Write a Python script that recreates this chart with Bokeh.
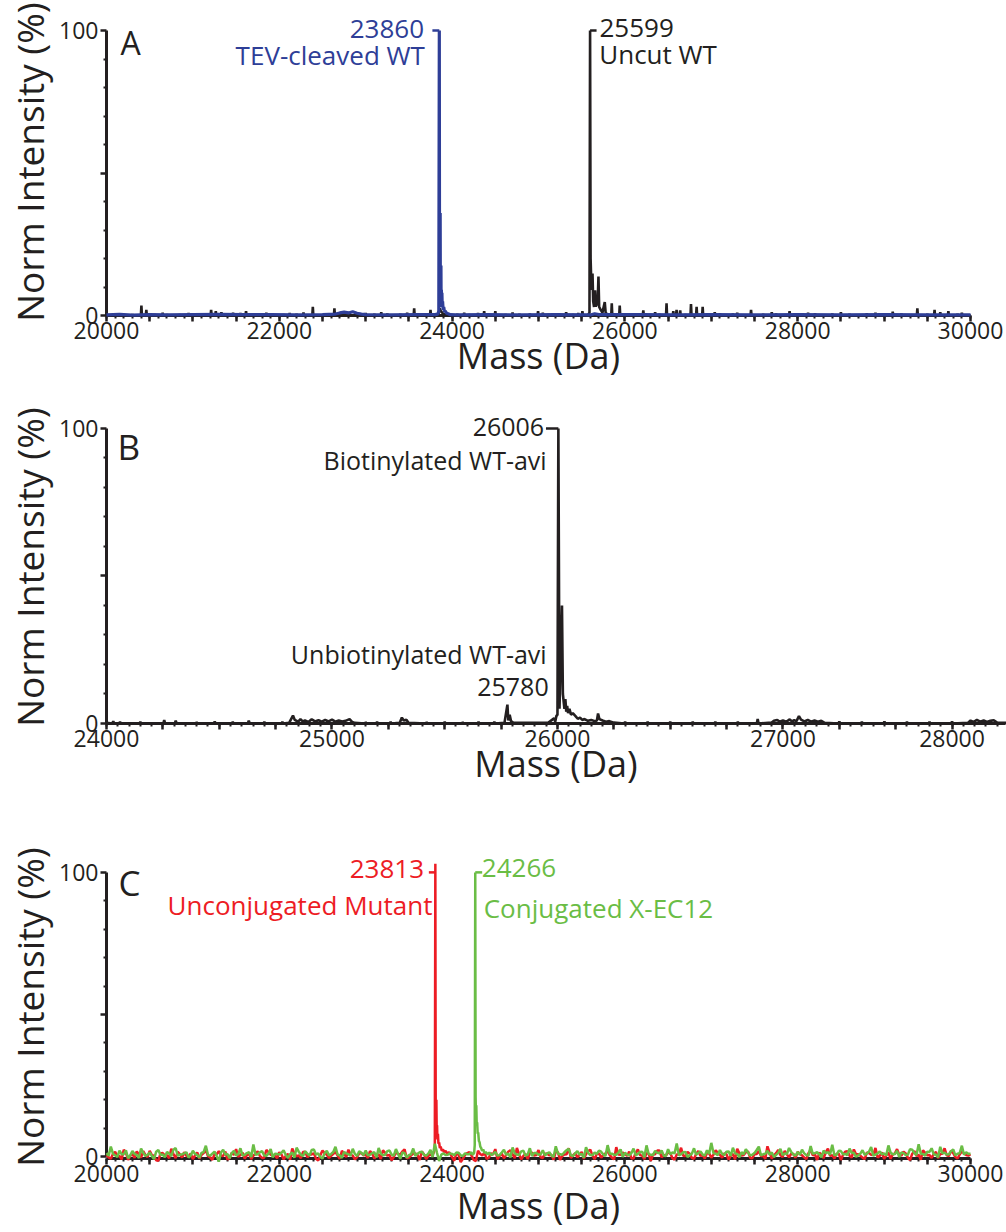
from bokeh.plotting import figure
from bokeh.models import Range1d, FixedTicker, Label, Title
from bokeh.embed import file_html
from bokeh.resources import INLINE

FONT = "Open Sans"
INK = "#231f20"
BLUE = "#2e3e97"
RED = "#ed1c24"
GREEN = "#6abd45"

# ---------------- data (mass in Da, normalised intensity in %) ----------------
# Panel A, uncut WT (black): isolated noise spikes (mass, height) and the dense peak cluster
A_UNCUT_SPIKES = [(20080, 0.6), (20180, 0.4), (20300, 0.5), (20404, 3.5), (20440, 0.4), (20461, 2.0),
                  (20560, 0.5), (20650, 1.0), (20700, 0.4), (20850, 0.5), (20950, 0.9), (21000, 0.3),
                  (21100, 0.6), (21211, 2.0), (21265, 1.5), (21330, 1.2), (21400, 0.5), (21465, 1.0),
                  (21550, 0.9), (21615, 1.5), (21760, 0.6), (21850, 1.0), (21900, 0.7), (22050, 0.5),
                  (22120, 0.9), (22200, 0.6), (22280, 1.1), (22388, 3.0), (22520, 0.6), (22638, 2.5),
                  (22750, 0.8), (22800, 0.5), (22900, 0.8), (23000, 0.9), (23100, 0.6), (23180, 1.2),
                  (23250, 0.7), (23400, 0.6), (23480, 1.0), (23561, 2.5), (23660, 0.6), (23750, 2.0),
                  (24060, 0.6), (24140, 1.0), (24200, 0.5), (24300, 0.9), (24371, 1.5), (24500, 1.5),
                  (24620, 0.5), (24700, 1.1), (24780, 0.6), (24900, 0.7), (24995, 1.5), (25050, 1.0),
                  (25120, 0.5), (25250, 0.6), (25320, 1.2), (25400, 0.5), (25460, 0.9), (25508, 1.5),
                  (25848, 4.3), (25940, 3.5), (26080, 0.8), (26213, 1.8), (26300, 0.5), (26350, 1.2),
                  (26400, 0.6), (26482, 4.3), (26560, 1.5), (26598, 2.0), (26640, 1.8), (26700, 0.5),
                  (26765, 4.0), (26830, 3.0), (26900, 3.0), (27000, 0.6), (27040, 1.2), (27100, 0.8),
                  (27250, 0.7), (27300, 1.0), (27460, 2.0), (27600, 0.6), (27700, 1.2), (27750, 0.7),
                  (27906, 1.5), (28050, 0.6), (28120, 1.0), (28200, 0.8), (28400, 0.7), (28500, 1.2),
                  (28600, 0.6), (28800, 0.8), (28900, 1.0), (29000, 0.6), (29100, 1.3), (29200, 0.7),
                  (29385, 2.5), (29500, 0.6), (29584, 2.0), (29650, 1.2), (29744, 1.5), (29850, 0.6),
                  (29900, 1.0)]
A_UNCUT_DENSE = [(20000, 0), (23840, 0), (23855, 2.5), (23870, 1.5), (23900, 0.5), (23950, 0),
                 (25570, 0), (25590, 1.0), (25597, 100), (25603, 20), (25613, 9), (25625, 14.7), (25633, 5),
                 (25643, 3), (25655, 8.8), (25663, 3), (25675, 6), (25684, 3.5), (25694, 13.7), (25702, 3),
                 (25720, 2), (25740, 1), (25767, 4.7), (25777, 1), (25800, 0.3), (30000, 0)]

# Panel A, TEV-cleaved WT (blue)
A_TEV = [(20000, 0.2), (20150, 0.4), (20300, 0.1), (20500, 0.3), (20700, 0.2), (21000, 0.3), (21300, 0.4),
         (21600, 0.3), (21900, 0.3), (22200, 0.2), (22500, 0.3), (22650, 0.5), (22700, 0.9), (22750, 1.2),
         (22800, 0.9), (22850, 1.3), (22900, 0.8), (22950, 0.5), (23000, 0.3), (23300, 0.2), (23600, 0.3),
         (23800, 0.3), (23835, 0.5), (23846, 1.5), (23852, 100), (23855, 3), (23857, 36), (23860, 6),
         (23862, 36), (23864, 8), (23866, 17.5), (23868, 6), (23871, 17.5), (23873, 4), (23876, 9),
         (23879, 3), (23882, 8), (23886, 3), (23890, 5), (23896, 2), (23903, 3), (23912, 1.2),
         (23922, 1.6), (23935, 0.8), (23955, 0.6), (23980, 0.3), (24050, 0.2), (24400, 0.3), (24800, 0.2),
         (25200, 0.3), (25600, 0.2), (25650, 0.6), (25700, 0.3), (26200, 0.3), (26600, 0.2), (27000, 0.3),
         (27500, 0.2), (28000, 0.3), (28500, 0.2), (29000, 0.3), (29500, 0.2), (30000, 0.2)]

# Panel B, WT-avi (black)
B_AVI_SPIKES = [(24030, 0.8), (24060, 0.6), (24150, 0.5), (24256, 1.2), (24307, 1.0), (24400, 0.4),
                (24480, 0.7), (24560, 0.5), (24631, 1.0), (24700, 0.5), (24780, 0.6), (25150, 0.4),
                (25200, 0.5), (25260, 0.6), (25420, 0.4), (25500, 0.5), (25580, 0.4), (25650, 0.5),
                (25720, 0.6), (26300, 0.6), (26400, 0.5), (26500, 0.6), (26600, 0.5), (26700, 0.6),
                (26800, 0.5), (26888, 1.5), (27250, 0.7), (27350, 0.6), (27450, 0.7), (27550, 0.5),
                (27650, 0.6), (27750, 0.7)]
B_AVI_DENSE = [(24000, 0.2),
               (24810, 0.2), (24827, 2.7), (24835, 1.2), (24850, 0.6), (24860, 1.5), (24870, 0.7), (24880, 1.0),
               (24895, 0.5), (24910, 1.4), (24925, 0.7), (24940, 1.1), (24955, 0.6), (24970, 1.2), (24985, 0.7),
               (25000, 1.3), (25015, 0.6), (25030, 1.0), (25045, 0.7), (25060, 0.9), (25078, 1.5), (25090, 0.5),
               (25100, 0.2),
               (25300, 0.2), (25310, 2.0), (25318, 1.0), (25330, 1.3), (25340, 0.2),
               (25765, 0.2), (25778, 6.4), (25782, 1.0), (25788, 3.0), (25794, 0.8), (25805, 0.2),
               (25960, 0.3), (25985, 1.8), (25990, 0.6), (25995, 2.5), (26000, 3.0), (26004, 100), (26009, 5),
               (26020, 40), (26024, 10), (26027, 7.8), (26031, 5), (26035, 8.3), (26039, 4), (26043, 6),
               (26047, 3.5), (26053, 5), (26060, 3), (26068, 3.5), (26080, 2.5), (26090, 1.6), (26100, 2.0),
               (26110, 1.2), (26120, 1.5), (26135, 0.9), (26150, 1.2), (26165, 0.8), (26175, 1.0), (26180, 3.4),
               (26186, 1.5), (26200, 1.0), (26215, 0.6), (26230, 0.8), (26250, 0.3),
               (26950, 0.3), (26960, 0.9), (26975, 1.2), (26985, 0.6), (27000, 1.0), (27015, 0.6), (27030, 1.4),
               (27040, 0.7), (27050, 1.1), (27060, 0.8), (27071, 2.5), (27080, 1.3), (27095, 0.7), (27110, 1.2),
               (27125, 0.6), (27140, 1.0), (27155, 0.6), (27170, 0.9), (27185, 0.2),
               (27820, 0.2), (27832, 1.0), (27845, 0.5), (27860, 1.2), (27875, 0.6), (27890, 1.0), (27905, 0.5),
               (27920, 0.9), (27935, 1.1), (27950, 0.3), (27990, 0.2)]

# Panel C, baseline readings every 50 Da from 20000 to 30000 and in between (None = inside a peak window)
C_GRID = list(range(20000, 30001, 50))
C_GRID_MID = list(range(20025, 30000, 50))
C_CONJ_BASE = [
    1.2, 3.5, 0.4, 2.1, 0.8, -0.6, 1.9, 0.5, 2.8, 0.2, 1.4, -0.9, 2.3, 0.7, 1.6, 0.1, 3.0, 0.6, 1.1, -0.4,
    2.0, 0.5, 1.3, 3.8, 0.3, 1.7, -1.8, 2.4, 0.9, 1.2, 0.4, 2.9, 0.6, 1.5, 4.2, 0.8, 1.9, 0.2, 2.6, 1.0,
    0.7, 2.2, -0.5, 1.4, 3.1, 0.6, 1.8, 0.3, 2.5, 1.1, -0.7, 2.0, 0.9, 3.4, 0.4, 1.6, 0.8, 2.7, 0.2, 1.3,
    2.1, 0.6, 1.5, 3.0, 0.4, 1.9, 0.7, 2.6, -0.8, 1.2, 0.5, 2.8, 1.0, 1.7, 0.3, 2.3, 4.5, -1.6, 1.1, 0.6,
    0.9, 1.4, 0.4, 1.1, None, None, None, None, None, None, 1.6, 0.5, 2.4, 1.0, 3.2, 0.7, 1.8, 0.3, 2.9, 1.2,
    0.6, 2.2, 1.1, 0.4, 3.6, 0.8, 1.5, 2.7, 0.2, 1.9, 0.9, 3.3, 0.5, 1.4, 2.1, 0.7, 4.0, 1.0, 0.6, 2.5,
    1.3, 0.4, 2.8, 0.9, 1.7, 3.9, 0.6, 2.0, 1.1, 0.3, 2.6, 1.4, 4.6, 0.8, 1.6, 0.5, 2.9, 1.2, 0.7, 2.2,
    4.8, 1.0, 2.3, 0.5, 1.8, 3.1, 0.9, 1.5, 2.6, 0.4, 1.2, 3.5, 0.8, 2.0, 1.4, 0.6, 2.7, 1.1, 3.0, 0.7,
    1.6, 2.4, 0.5, 3.7, 1.2, 0.8, 2.1, 1.5, 4.1, 0.6, 1.9, 0.9, 2.8, 1.3, 0.4, 2.2, 1.0, 3.3, 0.7, 1.8,
    1.1, 3.9, 0.8, 2.0, 1.4, 0.5, 2.6, 1.2, 4.3, 0.9, 1.7, 2.9, 0.6, 3.4, 1.3, 0.8, 2.5, 1.0, 3.8, 1.5,
    1.0]
C_CONJ_MID = [
    0.3, 1.0, -0.2, 0.8, 2.2, 0.4, 0.9, -0.5, 1.3, 0.6, 0.2, 1.7, 0.5, -0.3, 1.1, 2.4, 0.3, 0.8, 1.5, 0.4,
    0.9, -0.4, 1.6, 0.5, 1.0, 0.2, 1.4, 0.7, -0.6, 2.0, 0.8, 0.3, 1.2, -0.2, 0.6, 1.5, 0.4, 1.0, -0.3, 0.9,
    1.3, 0.5, 0.8, -0.4, 1.7, 0.2, 1.0, 2.3, 0.6, -0.2, 1.2, 0.4, 1.6, 0.7, -0.5, 1.1, 0.3, 0.9, 1.8, 0.5,
    0.4, 1.2, -0.3, 1.0, 0.6, 2.1, 0.3, 0.9, 1.4, -0.4, 0.8, 0.2, 1.5, 0.6, 1.0, -0.2, 1.3, 0.7, 0.5, 1.1,
    0.5, 1.3, 0.2, 0.8, None, None, None, None, None, 0.9, 0.3, 1.4, 0.6, -0.3, 1.1, 0.5, 2.0, 0.7, 0.2, 1.2,
    0.8, 0.3, 1.5, -0.2, 1.0, 0.6, 2.2, 0.4, 1.1, 0.7, -0.4, 1.3, 0.5, 0.9, 1.7, 0.2, 1.0, 0.6, 1.4, -0.1,
    0.7, 1.2, 0.4, 1.6, -0.3, 0.9, 0.5, 1.3, 2.1, 0.2, 0.8, 1.1, 0.4, 1.5, -0.2, 1.0, 0.6, 1.8, 0.3, 0.9,
    1.2, 0.5, 0.9, 1.7, 0.2, 1.1, -0.3, 0.8, 1.4, 0.6, 2.3, 0.4, 1.0, 0.7, -0.2, 1.3, 0.5, 0.9, 1.6, 0.3,
    0.6, 1.1, 0.3, 0.9, 1.5, -0.3, 1.2, 0.7, 0.4, 2.0, 0.8, 0.5, 1.3, -0.1, 1.0, 0.6, 1.7, 0.3, 1.1, 0.8,
    0.4, 1.4, 0.9, -0.2, 1.2, 0.6, 2.4, 0.5, 1.0, 0.3, 1.6, 0.8, -0.3, 1.1, 0.7, 1.9, 0.4, 1.2, 0.6, 1.0]
C_UNCONJ_BASE = [
    0.5, -0.8, 1.6, 0.2, 2.4, -1.2, 0.9, 1.8, -0.4, 0.6, 2.0, 0.3, -1.5, 1.2, 0.4, 2.7, -0.6, 0.8, 1.5, 0.1,
    -0.9, 1.4, 0.6, 2.2, -0.3, 0.8, 1.9, 0.2, -1.1, 1.3, 2.6, 0.5, -0.7, 1.0, 0.3, 1.8, -0.5, 2.3, 0.7, 0.4,
    1.5, -1.0, 0.9, 2.8, 0.1, -0.6, 1.7, 0.5, 1.1, -1.4, 2.1, 0.6, 0.2, 1.6, -0.8, 0.9, 2.4, 0.3, -0.2, 1.2,
    0.6, 1.9, -0.7, 0.8, 2.2, 0.3, -1.3, 1.4, 0.7, 2.5, -0.4, 1.0, 0.5, 1.8, -0.9, None, None, None, None, None,
    None, 1.2, -2.0, 0.6, 1.5, -1.2, 2.0, 0.4, -0.8, 1.1, 2.6, 0.2, -0.6, 1.7, 0.8, 3.0, -1.0, 0.9, 1.4, 0.3,
    2.3, -0.5, 1.0, 0.6, 1.8, -1.2, 0.7, 2.9, 0.4, -0.3, 1.6, 0.8, 2.4, -0.9, 1.1, 0.5, 1.9, -0.4, 3.3, 0.6,
    0.9, 1.7, -0.7, 2.5, 0.3, 1.2, -1.5, 0.8, 2.1, 0.4, 1.4, -0.6, 0.7, 3.1, 0.2, 1.0, -0.8, 1.9, 0.5, 1.3,
    -0.4, 2.2, 0.6, 1.1, -1.1, 0.9, 2.7, 0.3, 1.5, -0.5, 0.8, 1.9, 0.2, 3.6, -0.7, 1.2, 0.5, 2.0, -0.3, 0.9,
    1.6, 0.4, -0.9, 2.3, 0.7, 1.3, -0.6, 2.8, 0.5, 1.0, -1.2, 1.7, 0.3, 2.5, 0.8, -0.4, 1.4, 0.6, 3.0, 0.2,
    -0.8, 1.5, 0.7, 2.6, 0.3, 1.1, -1.3, 1.9, 0.6, 2.2, 0.4, -0.5, 1.6, 0.9, 2.9, 0.2, 1.2, -0.7, 1.8, 0.5,
    0.8]
C_UNCONJ_MID = [
    -0.3, 0.9, 0.2, -1.0, 1.4, 0.3, -0.5, 0.8, 1.9, -0.2, 0.5, -1.3, 1.1, 0.4, -0.6, 0.9, 1.6, -0.4, 0.2, 1.0,
    0.4, -0.7, 1.2, 0.1, -1.2, 0.8, 0.3, 1.7, -0.5, 0.6, -0.1, 1.3, 0.5, -0.9, 1.0, 0.2, -0.4, 1.5, 0.3, -0.6,
    0.7, 0.2, -1.1, 1.0, 0.4, 1.6, -0.3, 0.8, -0.8, 0.5, 1.2, -0.5, 0.9, 0.3, 2.0, -0.2, 0.6, -1.0, 1.1, 0.4,
    -0.5, 1.0, 0.3, -0.9, 1.3, 0.6, -0.2, 0.9, 1.8, -0.6, 0.4, 1.1, -1.2, 0.7, 0.2, None, None, None, None, None,
    -1.5, 0.6, -0.8, 1.2, 0.3, -1.6, 0.9, 1.4, -0.4, 0.7, -1.0, 1.1, 0.5, 2.2, -0.6, 0.8, 0.2, -0.9, 1.3, 0.5,
    -0.3, 1.0, 0.4, -1.1, 1.5, 0.2, 0.8, -0.5, 1.2, 0.6, -0.8, 1.9, 0.3, 0.9, -0.4, 1.1, 0.5, -1.0, 0.7, 1.4,
    0.2, -0.6, 1.3, 0.5, -0.9, 1.0, 0.7, 2.1, -0.3, 0.4, 1.2, -1.1, 0.8, 0.3, 1.6, -0.5, 0.9, 0.2, -0.7, 1.1,
    0.6, 1.4, -0.4, 0.8, 0.3, -1.0, 1.1, 0.5, 1.8, -0.6, 0.9, 0.2, -0.8, 1.3, 0.4, 2.3, -0.2, 0.7, 1.0, -0.5,
    0.9, -0.3, 1.2, 0.4, -1.2, 0.7, 1.5, 0.2, -0.7, 1.0, 0.6, 1.9, -0.4, 0.8, 0.3, -0.9, 1.2, 0.5, -0.3, 1.4,
    0.3, -0.8, 1.1, 0.6, 1.7, -0.4, 0.9, 0.2, -1.1, 1.3, 0.5, 0.8, -0.6, 1.0, 0.4, 2.0, -0.2, 0.7, 1.1, 0.3]
C_UNCONJ_PEAK = [(23740, 0.8), (23770, 0.3), (23790, 1.5), (23800, 3), (23806, 103), (23810, 20), (23814, 12),
                 (23818, 20), (23822, 8), (23826, 11), (23830, 6), (23836, 8), (23842, 4.5), (23850, 5),
                 (23858, 3), (23868, 3.5), (23880, 2), (23895, 2.5), (23910, 1.5), (23925, 2), (23945, 1),
                 (23965, 1.5), (23985, 0.6)]
C_CONJ_PEAK = [(24200, 0.8), (24220, 1.5), (24240, 0.6), (24255, 1.2), (24262, 4), (24268, 100), (24272, 21),
               (24276, 15), (24280, 18), (24285, 11), (24290, 12), (24296, 8), (24302, 8.5), (24310, 5.5),
               (24318, 5), (24326, 3.5), (24336, 3), (24348, 2), (24360, 2.5), (24375, 1.2), (24390, 1.6),
               (24410, 0.7), (24430, 1.4), (24450, 0.5)]

# labelled peak masses (apex positions as drawn)
A_TEV_APEX, A_UNCUT_APEX = 23852, 25597
B_APEX = 26004
C_UNCONJ_APEX, C_CONJ_APEX = 23806, 24268


def split(pairs):
    pairs = sorted(pairs)
    return [m for m, _ in pairs], [v for _, v in pairs]


def with_spikes(dense, spikes, half_width):
    pts = list(dense)
    for m, h in spikes:
        pts += [(m - half_width, 0), (m, h), (m + half_width, 0)]
    return split(pts)


def merge(grid, vals, grid2, vals2, peak):
    pts = [(m, v) for m, v in zip(grid, vals) if v is not None]
    pts += [(m, v) for m, v in zip(grid2, vals2) if v is not None]
    return split(pts + list(peak))


def make_fig(height, xr, yr, mb, xticks, xminor, xlabels, xlab_standoff, ylab_offset):
    p = figure(width=1006, height=height, x_range=Range1d(*xr), y_range=Range1d(*yr),
               output_backend="svg", toolbar_location=None,
               min_border_left=mb[0], min_border_right=mb[1], min_border_top=mb[2], min_border_bottom=mb[3],
               background_fill_color="white", border_fill_color="white")
    p.outline_line_color = None
    p.xgrid.visible = False
    p.ygrid.visible = False

    xa = p.xaxis[0]
    xa.ticker = FixedTicker(ticks=xticks, minor_ticks=xminor)
    overrides = {t: "" for t in xticks}
    overrides.update(xlabels)
    xa.major_label_overrides = overrides
    xa.axis_line_width = 3
    xa.axis_line_color = INK
    xa.major_tick_line_width = 2.5
    xa.major_tick_line_color = INK
    xa.major_tick_in = 0
    xa.major_tick_out = 6
    xa.minor_tick_line_width = 2
    xa.minor_tick_line_color = INK
    xa.minor_tick_in = 0
    xa.minor_tick_out = 3
    xa.major_label_text_font = FONT
    xa.major_label_text_font_size = "23px"
    xa.major_label_text_color = INK
    xa.major_label_standoff = 0
    xa.axis_label = "Mass (Da)"
    xa.axis_label_text_font = FONT
    xa.axis_label_text_font_size = "36px"
    xa.axis_label_text_font_style = "normal"
    xa.axis_label_text_color = INK
    xa.axis_label_standoff = xlab_standoff

    ya = p.yaxis[0]
    ya.ticker = FixedTicker(ticks=[0, 50, 100], minor_ticks=[10, 20, 30, 40, 60, 70, 80, 90])
    ya.major_label_overrides = {0: "0", 50: "", 100: "100"}
    ya.bounds = (0, 100)
    ya.axis_line_width = 3
    ya.axis_line_color = INK
    ya.major_tick_line_width = 2.5
    ya.major_tick_line_color = INK
    ya.major_tick_in = 0
    ya.major_tick_out = 6
    ya.minor_tick_line_width = 2
    ya.minor_tick_line_color = INK
    ya.minor_tick_in = 0
    ya.minor_tick_out = 3
    ya.major_label_text_font = FONT
    ya.major_label_text_font_size = "23px"
    ya.major_label_text_color = INK
    ya.major_label_standoff = 2
    ya.axis_label = None
    p.add_layout(Title(text="Norm Intensity (%)", align="center", offset=ylab_offset, standoff=3,
                       text_font=FONT, text_font_size="37px", text_font_style="normal", text_color=INK),
                 "left")
    return p


def lab(p, x, y, text, color, size, align):
    p.add_layout(Label(x=x, y=y, text=text, text_font=FONT, text_font_size=size, text_color=color,
                       text_align=align, text_baseline="alphabetic"))


def trace(p, x, y, color, width):
    r = p.line(x, y, line_color=color, line_width=width)
    r.level = "overlay"
    return r


def bracket(p, x0, x1, color):
    r = p.segment(x0=[x0], y0=[100], x1=[x1], y1=[100], line_color=color, line_width=2.5)
    r.level = "overlay"


# ---------------- panel A ----------------
ticks_20_30 = list(range(20000, 30001, 500))
minor_20_30 = list(range(20000, 30001, 100))
lab_20_30 = {t: str(t) for t in range(20000, 30001, 2000)}

pA = make_fig(405, (20000, 30000), (0, 107.72), (103, 36, 8, 90), ticks_20_30, minor_20_30, lab_20_30, -11, -7.5)
x, y = with_spikes(A_UNCUT_DENSE, A_UNCUT_SPIKES, 6)
trace(pA, x, y, INK, 2.6)
bracket(pA, A_UNCUT_APEX, A_UNCUT_APEX + 75, INK)
x, y = split(A_TEV)
trace(pA, x, y, BLUE, 3.2)
bracket(pA, A_TEV_APEX - 80, A_TEV_APEX, BLUE)
lab(pA, 20161, 95.8, "A", INK, "32px", "left")
lab(pA, 23675, 100.7, "23860", BLUE, "26px", "right")
lab(pA, 23685, 91.4, "TEV-cleaved WT", BLUE, "26px", "right")
lab(pA, 25705, 100.9, "25599", INK, "26px", "left")
lab(pA, 25703, 91.8, "Uncut WT", INK, "26px", "left")

# ---------------- panel B ----------------
ticks_B = list(range(24000, 27751, 250))
minor_B = list(range(24000, 28000, 50))
lab_B = {24000: "24000", 25000: "25000", 26000: "26000", 27000: "27000", 27750: "28000"}
pB = make_fig(408, (24000, 27987), (0, 106.1), (104, 1, 5, 90), ticks_B, minor_B, lab_B, -11, -9.5)
x, y = with_spikes(B_AVI_DENSE, B_AVI_SPIKES, 4)
trace(pB, x, y, INK, 2.6)
bracket(pB, B_APEX - 55, B_APEX, INK)
lab(pB, 24049, 94.0, "B", INK, "35px", "left")
lab(pB, 25941, 100.6, "26006", INK, "25px", "right")
lab(pB, 25952, 89.4, "Biotinylated WT-avi", INK, "25px", "right")
lab(pB, 25952, 23.4, "Unbiotinylated WT-avi", INK, "25px", "right")
lab(pB, 25961, 12.3, "25780", INK, "25px", "right")

# ---------------- panel C ----------------
pC = make_fig(419, (20000, 30000), (-0.7, 105.94), (103, 36, 42, 72), ticks_20_30, minor_20_30, lab_20_30, -4, -3.5)
x, y = merge(C_GRID, C_UNCONJ_BASE, C_GRID_MID, C_UNCONJ_MID, C_UNCONJ_PEAK)
trace(pC, x, y, RED, 2.5)
bracket(pC, C_UNCONJ_APEX - 75, C_UNCONJ_APEX, RED)
x, y = merge(C_GRID, C_CONJ_BASE, C_GRID_MID, C_CONJ_MID, C_CONJ_PEAK)
trace(pC, x, y, GREEN, 2.5)
bracket(pC, C_CONJ_APEX, C_CONJ_APEX + 80, GREEN)
lab(pC, 20138, 96.6, "C", INK, "35px", "left")
lab(pC, 23675, 101.3, "23813", RED, "26px", "right")
lab(pC, 23772, 88.5, "Unconjugated Mutant", RED, "26px", "right")
lab(pC, 24344, 101.4, "24266", GREEN, "26px", "left")
lab(pC, 24366, 87.4, "Conjugated X-EC12", GREEN, "26px", "left")

open("out.html", "w").write(file_html([pA, pB, pC], INLINE))
